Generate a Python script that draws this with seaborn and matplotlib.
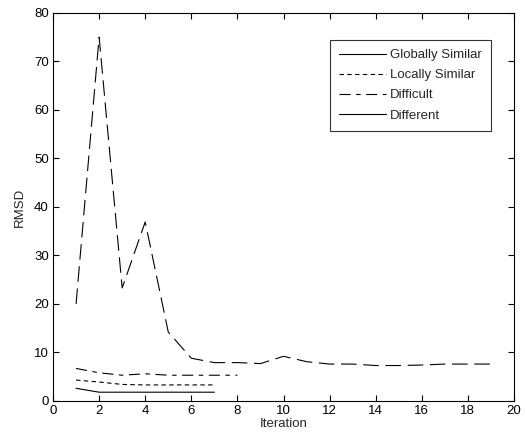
import pandas as pd
import matplotlib
matplotlib.use('Agg')
import matplotlib.pyplot as plt
import seaborn as sns
from matplotlib.lines import Line2D

# 数据
glob_x = [1, 2, 3, 4, 5, 6, 7]
glob_y = [2.6, 1.8, 1.8, 1.8, 1.8, 1.8, 1.8]
local_x = [1, 2, 3, 4, 5, 6, 7]
local_y = [4.3, 3.9, 3.4, 3.3, 3.3, 3.3, 3.3]
diff_x = [1, 2, 3, 4, 5, 6, 7, 8]
diff_y = [6.7, 5.8, 5.3, 5.6, 5.3, 5.3, 5.3, 5.3]
dif2_x = list(range(1, 20))
dif2_y = [20, 75, 23.3, 36.9, 14.2, 8.8, 7.9, 7.9, 7.7, 9.2, 8.1, 7.6, 7.6,
          7.3, 7.3, 7.4, 7.6, 7.6, 7.6]

sns.set_style('white')
plt.rcParams['font.family'] = ['Liberation Sans', 'DejaVu Sans']
plt.rcParams['xtick.direction'] = 'in'
plt.rcParams['ytick.direction'] = 'in'

fig = plt.figure(figsize=(5.25, 4.44), dpi=100)
ax = fig.add_axes([0.101, 0.097, 0.878, 0.874])

lw = 0.8
fs = 9.5
sns.lineplot(x=glob_x, y=glob_y, ax=ax, color='black', lw=lw)
l2 = sns.lineplot(x=local_x, y=local_y, ax=ax, color='black', lw=lw).lines[-1]
l2.set_dashes((4, 3))
l3 = sns.lineplot(x=diff_x, y=diff_y, ax=ax, color='black', lw=lw).lines[-1]
l3.set_dashes((10, 5, 4, 5))
l4 = sns.lineplot(x=dif2_x, y=dif2_y, ax=ax, color='black', lw=lw).lines[-1]
l4.set_dashes((14, 6))

ax.set_xlim(0, 20)
ax.set_ylim(0, 80)
ax.set_xticks(range(0, 21, 2))
ax.set_yticks(range(0, 81, 10))
ax.tick_params(labelsize=fs, length=4, width=0.8, top=True, right=True,
               bottom=True, left=True, colors='black', pad=3)
ax.set_xlabel('Iteration', fontsize=fs, labelpad=1)
ax.set_ylabel('RMSD', fontsize=fs, labelpad=6)
for s in ax.spines.values():
    s.set_color('black')
    s.set_linewidth(0.8)

handles = [
    Line2D([], [], color='black', lw=lw),
    Line2D([], [], color='black', lw=lw, dashes=(4, 3)),
    Line2D([], [], color='black', lw=lw, dashes=(10, 5, 4, 5)),
    Line2D([], [], color='black', lw=lw),
]
labels = ['Globally Similar', 'Locally Similar', 'Difficult', 'Different']
leg = ax.legend(handles, labels, loc='upper right', bbox_to_anchor=(0.965, 0.948),
                fontsize=fs, frameon=True, fancybox=False, handlelength=3.6,
                handletextpad=0.3, borderpad=0.7, labelspacing=0.6)
leg.get_frame().set_edgecolor('black')
leg.get_frame().set_linewidth(0.8)

fig.savefig('out.png', dpi=100)
